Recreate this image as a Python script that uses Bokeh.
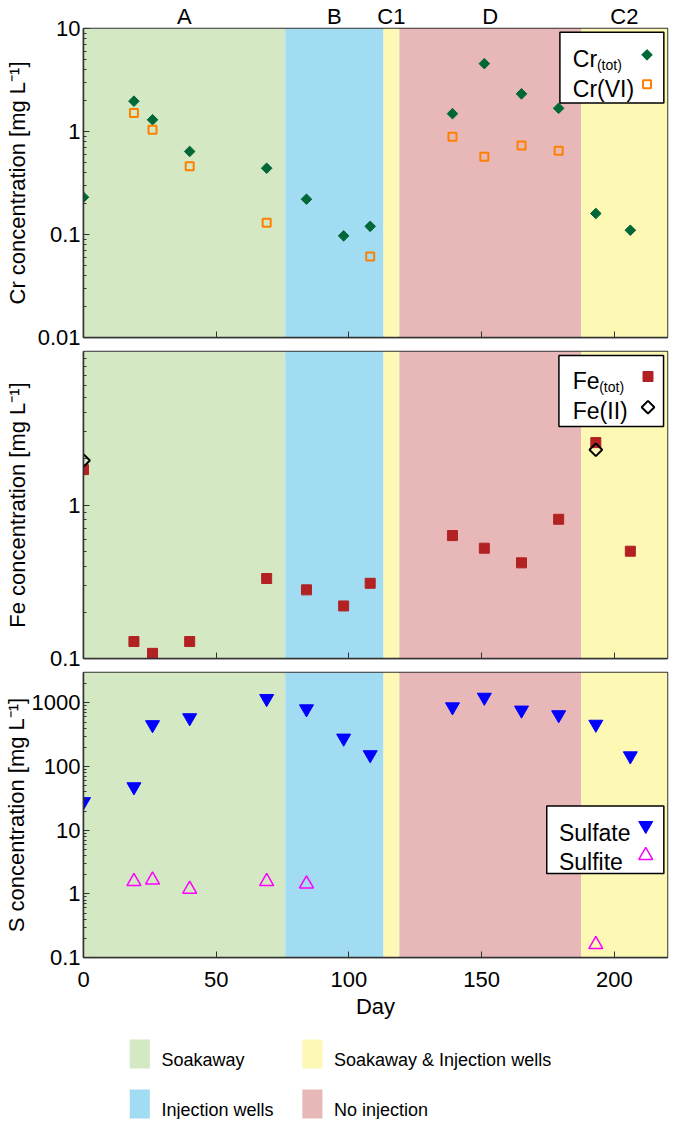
import numpy as np
from bokeh.plotting import figure
from bokeh.models import Range1d, FixedTicker, Label, CustomLabelingPolicy, LinearAxis
from bokeh.layouts import column
from bokeh.embed import file_html
from bokeh.resources import INLINE
from bokeh.core.properties import value

FONT = "Liberation Sans"

# ---------------- data ----------------
days = [0, 19, 26, 40, 69, 84, 98, 108, 139, 151, 165, 179, 193, 206]
cr_tot = [0.23, 1.97, 1.30, 0.64, 0.44, 0.22, 0.097, 0.12, 1.49, 4.56, 2.32, 1.68, 0.16, 0.11]
cr_vi_days = [19, 26, 40, 69, 108, 139, 151, 165, 179]
cr_vi = [1.51, 1.04, 0.46, 0.13, 0.061, 0.89, 0.57, 0.73, 0.65]
fe_tot = [1.7, 0.129, 0.108, 0.129, 0.332, 0.28, 0.22, 0.309, 0.632, 0.523, 0.42, 0.807, 2.55, 0.50]
fe_ii_days = [0, 193]
fe_ii = [1.95, 2.29]
sulfate = [28, 48, 454, 583, 1167, 805, 279, 153, 865, 1224, 769, 650, 461, 147]
sulfite_days = [19, 26, 40, 69, 84, 193]
sulfite = [1.56, 1.65, 1.18, 1.56, 1.43, 0.16]

region_names = ["A", "B", "C1", "D", "C2"]
region_start = [0, 76, 113, 119, 187.5]
region_end = [76, 113, 119, 187.5, 220]
region_type = ["Soakaway", "Injection wells", "Soakaway & Injection wells",
               "No injection", "Soakaway & Injection wells"]
legend_types = ["Soakaway", "Soakaway & Injection wells", "Injection wells", "No injection"]
type_colors = {"Soakaway": "#d3e8c3", "Injection wells": "#a2dcf2",
               "Soakaway & Injection wells": "#fdf8b3", "No injection": "#e8b7b8"}

x_ticks = [0, 50, 100, 150, 200]
cr_ticks = [0.01, 0.1, 1, 10]
cr_tick_labels = ["0.01", "0.1", "1", "10"]
fe_ticks = [0.1, 1]
fe_tick_labels = ["0.1", "1"]
s_ticks = [0.1, 1, 10, 100, 1000]
s_tick_labels = ["0.1", "1", "10", "100", "1000"]

X0, X1 = 0, 220
W = 669
ML, MR = 77, 2
FW = W - ML - MR

x_range = Range1d(X0, X1)

C_CRT = "#006837"
C_CRVI = "#ff8000"
C_FE = "#b22222"
C_SO4 = "#0000ff"
C_SO3 = "#ff00ff"

HIDE_ALL = CustomLabelingPolicy(code="""
for (let i = 0; i < indices.size; i++) { indices.unset(i) }
""")


def minor_ticks(lo, hi):
    out = []
    for e in range(-3, 5):
        for m in range(2, 10):
            v = m * 10.0 ** e
            if lo < v < hi:
                out.append(v)
    return out


def make_panel(height, top, bottom, ylo, yhi, ticks, labels, ylabel, lab_standoff, show_x):
    fh = height - top - bottom
    p = figure(width=W, height=height, x_range=x_range, y_range=Range1d(ylo, yhi),
               y_axis_type="log", output_backend="svg", toolbar_location=None,
               min_border_left=ML, min_border_right=MR, min_border_top=top,
               min_border_bottom=bottom)
    p.xgrid.grid_line_color = None
    p.ygrid.grid_line_color = None
    p.outline_line_color = "#333333"
    p.outline_line_width = 1.5
    p.background_fill_color = "white"
    p.border_fill_color = "white"

    # region backgrounds
    p.quad(left=region_start, right=region_end, bottom=ylo, top=yhi,
           fill_color=[type_colors[t] for t in region_type], line_color=None)

    ya = p.yaxis[0]
    ya.ticker = FixedTicker(ticks=ticks, minor_ticks=minor_ticks(ylo, yhi))
    ya.major_label_overrides = dict(zip(ticks, labels))
    ya.major_tick_in = 6
    ya.major_tick_out = 0
    ya.minor_tick_in = 3
    ya.minor_tick_out = 0
    ya.major_tick_line_color = "#333333"
    ya.minor_tick_line_color = "#333333"
    ya.axis_line_color = "#333333"
    ya.axis_line_width = 1.5
    ya.major_label_text_font = FONT
    ya.major_label_text_font_size = "22px"
    ya.major_label_text_color = "black"
    ya.major_label_standoff = 3
    ya.axis_label = ylabel
    ya.axis_label_text_font = FONT
    ya.axis_label_text_font_size = "22px"
    ya.axis_label_text_font_style = "normal"
    ya.axis_label_text_color = "black"
    ya.axis_label_standoff = lab_standoff

    xa = p.xaxis[0]
    xa.ticker = FixedTicker(ticks=x_ticks, minor_ticks=[])
    xa.major_tick_in = 6
    xa.major_tick_out = 0
    xa.minor_tick_line_color = None
    xa.major_tick_line_color = "#333333"
    xa.axis_line_color = "#333333"
    xa.axis_line_width = 1.5
    if show_x:
        xa.major_label_text_font = FONT
        xa.major_label_text_font_size = "22px"
        xa.major_label_text_color = "black"
        xa.major_label_standoff = 14
        xa.axis_label = "Day"
        xa.axis_label_text_font = FONT
        xa.axis_label_text_font_size = "22px"
        xa.axis_label_text_font_style = "normal"
        xa.axis_label_text_color = "black"
        xa.axis_label_standoff = 4
    else:
        xa.major_label_text_font_size = "2px"
        xa.major_label_standoff = 0
        xa.major_label_policy = HIDE_ALL

    def at(dx_right, dy_top):
        x = X1 - dx_right / FW * (X1 - X0)
        ly = np.log10(yhi) - dy_top / fh * (np.log10(yhi) - np.log10(ylo))
        return x, 10 ** ly

    return p, at


def legend_box(p, at, l, r, t, b):
    x0, y0 = at(l, t)
    x1, y1 = at(r, b)
    p.quad(left=[x0], right=[x1], top=[y0], bottom=[y1], fill_color="white",
           line_color="black", line_width=1.5)


def label(p, at, dx, dy, text, size="23px", align="left"):
    x, y = at(dx, dy)
    p.add_layout(Label(x=x, y=y, text=text, text_font=FONT, text_font_size=size,
                       text_color="black", text_align=align, text_baseline="alphabetic"))


# ---------------- Cr panel ----------------
p1, at1 = make_panel(350, 24, 13, 0.01, 10, cr_ticks, cr_tick_labels,
                     "Cr concentration [mg L\u207b\u00b9]", 5, False)
p1.scatter(days, cr_tot, marker="square", angle=np.pi / 4, size=7.5,
           fill_color=C_CRT, line_color=C_CRT)
p1.scatter(cr_vi_days, cr_vi, marker="square", size=8, fill_color=None,
           line_color=C_CRVI, line_width=2)
# region names on an axis above the frame, at each region's midpoint
mids = [(s + e) / 2 for s, e in zip(region_start, region_end)]
top_ax = LinearAxis(ticker=FixedTicker(ticks=mids, minor_ticks=[]),
                    major_label_overrides=dict(zip(mids, region_names)),
                    axis_line_color=None, major_tick_line_color=None,
                    minor_tick_line_color=None, major_tick_in=0, major_tick_out=0,
                    minor_tick_in=0, minor_tick_out=0, major_label_standoff=0,
                    major_label_text_font=FONT, major_label_text_font_size="22px",
                    major_label_text_color="black")
p1.add_layout(top_ax, "above")
legend_box(p1, at1, 108.7, 3.7, 3.7, 75.4)
label(p1, at1, 95.7, 30.7, "Cr")
label(p1, at1, 71.3, 37, "(tot)", size="14px")
label(p1, at1, 95.7, 61, "Cr(VI)")
mx, my = at1(20.7, 26.7)
p1.scatter([mx], [my], marker="square", angle=np.pi / 4, size=7.5,
           fill_color=C_CRT, line_color=C_CRT)
mx, my = at1(20.7, 56.4)
p1.scatter([mx], [my], marker="square", size=8, fill_color=None,
           line_color=C_CRVI, line_width=2)

# ---------------- Fe panel ----------------
p2, at2 = make_panel(321, 1, 13, 0.1, 10, fe_ticks, fe_tick_labels,
                     "Fe concentration [mg L\u207b\u00b9]", 17, False)
p2.scatter(days, fe_tot, marker="square", size=10, fill_color=C_FE, line_color=C_FE)
p2.scatter(fe_ii_days, fe_ii, marker="square", angle=np.pi / 4, size=9,
           fill_color=None, line_color="black", line_width=2)
legend_box(p2, at2, 109.7, 4, 4, 75)
label(p2, at2, 95.7, 29, "Fe")
label(p2, at2, 69, 35, "(tot)", size="14px")
label(p2, at2, 95.7, 59, "Fe(II)")
mx, my = at2(19.7, 25)
p2.scatter([mx], [my], marker="square", size=10, fill_color=C_FE, line_color=C_FE)
mx, my = at2(19.7, 55.7)
p2.scatter([mx], [my], marker="square", angle=np.pi / 4, size=9,
           fill_color=None, line_color="black", line_width=2)

# ---------------- S panel ----------------
p3, at3 = make_panel(356, 1, 70, 0.1, 3000, s_ticks, s_tick_labels,
                     "S concentration [mg L\u207b\u00b9]", 0, True)
p3.scatter(days, sulfate, marker="inverted_triangle", size=14,
           fill_color=C_SO4, line_color=C_SO4)
p3.scatter(sulfite_days, sulfite, marker="triangle", size=14, fill_color=None,
           line_color=C_SO3, line_width=1.5)
legend_box(p3, at3, 122, 3.7, 133.4, 201)
label(p3, at3, 109.7, 160.7, "Sulfate")
label(p3, at3, 109.7, 189, "Sulfite")
mx, my = at3(22, 153)
p3.scatter([mx], [my], marker="inverted_triangle", size=14,
           fill_color=C_SO4, line_color=C_SO4)
mx, my = at3(22, 183)
p3.scatter([mx], [my], marker="triangle", size=14, fill_color=None,
           line_color=C_SO3, line_width=1.5)

# ---------------- bottom legend ----------------
LH = 92
lg = figure(width=W, height=LH, x_range=Range1d(0, W), y_range=Range1d(LH, 0),
            output_backend="svg", toolbar_location=None, min_border=0,
            x_axis_location=None, y_axis_location=None)
lg.xgrid.grid_line_color = None
lg.ygrid.grid_line_color = None
lg.outline_line_color = None
col_x = [53, 250.7]
row_y = [12, 62]
sw_l, sw_r, sw_t, sw_b, tx, ty, txt, cols = [], [], [], [], [], [], [], []
for i, t in enumerate(legend_types):
    c, r = i % 2, i // 2
    sw_l.append(col_x[c]); sw_r.append(col_x[c] + 23)
    sw_t.append(row_y[r]); sw_b.append(row_y[r] + 29)
    tx.append(col_x[c] + 36.3); ty.append(row_y[r] + 20)
    txt.append(t); cols.append(type_colors[t])
lg.quad(left=sw_l, right=sw_r, top=sw_t, bottom=sw_b, fill_color=cols, line_color=None)
lg.text(x=tx, y=ty, text=txt, text_font=value(FONT), text_font_size="18px",
        text_color="black", text_baseline="alphabetic", text_align="left")

layout = column(p1, p2, p3, lg)
open("out.html", "w").write(file_html(layout, INLINE))
